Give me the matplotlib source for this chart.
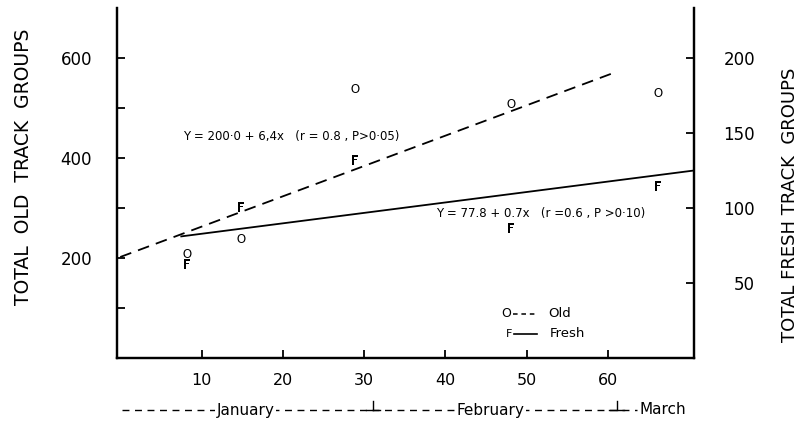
import matplotlib
matplotlib.use("Agg")
import matplotlib.pyplot as plt
from matplotlib.transforms import blended_transform_factory

# ---- data ----
days = [8.2, 14.8, 28.9, 48.1, 66.2]
old_groups = [210, 240, 540, 510, 532]          # left axis
fresh_groups = [63, 101, 132, 87, 115]          # right axis
old_fit_x = [0, 61]
old_fit_y = [202, 572]
fresh_fit_x = [7.4, 70.6]
fresh_fit_y = [81, 125]
x_ticks = [10, 20, 30, 40, 50, 60]
old_ticks = [200, 400, 600]
old_minor_ticks = [100, 300, 500]
fresh_ticks = [50, 100, 150, 200]
months = ["January", "February", "March"]
month_label_x = [15.4, 45.6, 66.8]
month_bounds = [31.1, 61.1]
old_eq = "Y = 200·0 + 6,4x   (r = 0.8 , P>0·05)"
fresh_eq = "Y = 77.8 + 0.7x   (r =0.6 , P >0·10)"

plt.rcParams['font.family'] = ['DejaVu Sans']

fig = plt.figure(figsize=(8.02, 4.26), dpi=100)
L, R, B, T = 117 / 802, 694 / 802, (426 - 358) / 426, (426 - 8) / 426
ax = fig.add_axes([L, B, R - L, T - B])
ax2 = ax.twinx()

ax.set_xlim(-0.4, 70.6)
ax.set_ylim(0, 700)
ax2.set_ylim(0, 700 / 3)

# regression lines
ax.plot(old_fit_x, old_fit_y, color='black', lw=1.3, linestyle=(0, (6.5, 4)))
ax2.plot(fresh_fit_x, fresh_fit_y, color='black', lw=1.3, solid_capstyle='butt')

# points as letters
ax.plot(days, old_groups, linestyle='none', marker=r'$\mathsf{O}$',
        markersize=6.5, markeredgewidth=0, color='black')
ax2.plot(days, fresh_groups, linestyle='none', marker=r'$\mathsf{F}$',
         markersize=6.5, markeredgewidth=0, color='black')

# spines
for a in (ax, ax2):
    a.spines['top'].set_visible(False)
    for s in ('left', 'right', 'bottom'):
        a.spines[s].set_linewidth(1.6)

ax.set_xticks(x_ticks)
ax.set_xticklabels([str(v) for v in x_ticks])
ax.set_yticks(old_ticks)
ax.set_yticks(old_minor_ticks, minor=True)
ax.set_yticklabels([str(v) for v in old_ticks])
ax.tick_params(axis='x', direction='in', length=6, width=1.3, pad=11, labelsize=11.5)
ax.tick_params(axis='y', which='both', direction='in', length=6, width=1.3,
               pad=18, labelsize=12)
ax.tick_params(axis='y', which='minor', labelleft=False)

ax2.set_yticks(fresh_ticks)
ax2.set_yticklabels([str(v) for v in fresh_ticks])
ax2.tick_params(axis='y', direction='in', length=6, width=1.3, pad=44, labelsize=12)
for lbl in ax2.get_yticklabels():
    lbl.set_horizontalalignment('right')

# axis titles
fig.text(24 / 802, 1 - 167 / 426, "TOTAL  OLD  TRACK  GROUPS", rotation=90,
         ha='center', va='center', fontsize=13.5)
fig.text(790 / 802, 1 - 205 / 426, "TOTAL FRESH TRACK  GROUPS", rotation=90,
         ha='center', va='center', fontsize=13)

# equations
ax.text(0.114, 0.634, old_eq, transform=ax.transAxes, fontsize=8.5,
        ha='left', va='center')
ax.text(0.553, 0.414, fresh_eq, transform=ax.transAxes, fontsize=8.5,
        ha='left', va='center')

# legend drawn by hand
ax.text(0.674, 0.126, "O", transform=ax.transAxes, fontsize=9, ha='center', va='center')
ax.plot([0.686, 0.728], [0.126, 0.126], transform=ax.transAxes, color='black',
        lw=1.1, linestyle=(0, (3, 2.5)))
ax.text(0.747, 0.126, "Old", transform=ax.transAxes, fontsize=9.5, ha='left', va='center')
ax.text(0.680, 0.069, "F", transform=ax.transAxes, fontsize=8, ha='center', va='center')
ax.plot([0.688, 0.728], [0.069, 0.069], transform=ax.transAxes, color='black', lw=1.2)
ax.text(0.750, 0.069, "Fresh", transform=ax.transAxes, fontsize=9.5, ha='left', va='center')

# month row under the axis
tr = blended_transform_factory(ax.transData, fig.transFigure)
ym = 1 - 410 / 426
ax.plot([0.2, month_bounds[1] + 2.5], [ym, ym], transform=tr, color='black', lw=1.0,
        linestyle=(0, (5, 4)), clip_on=False)
for b in month_bounds:
    ax.plot([b, b], [ym, ym + 9 / 426], transform=tr, color='black', lw=1.0, clip_on=False)
    ax.plot([b - 0.9, b + 0.9], [ym, ym], transform=tr, color='black', lw=1.0, clip_on=False)
for name, xm in zip(months, month_label_x):
    ax.text(xm, ym, name, transform=tr, ha='center', va='center', fontsize=11,
            bbox=dict(facecolor='white', edgecolor='none', pad=1.0), clip_on=False)

fig.savefig("out.png", dpi=100)
